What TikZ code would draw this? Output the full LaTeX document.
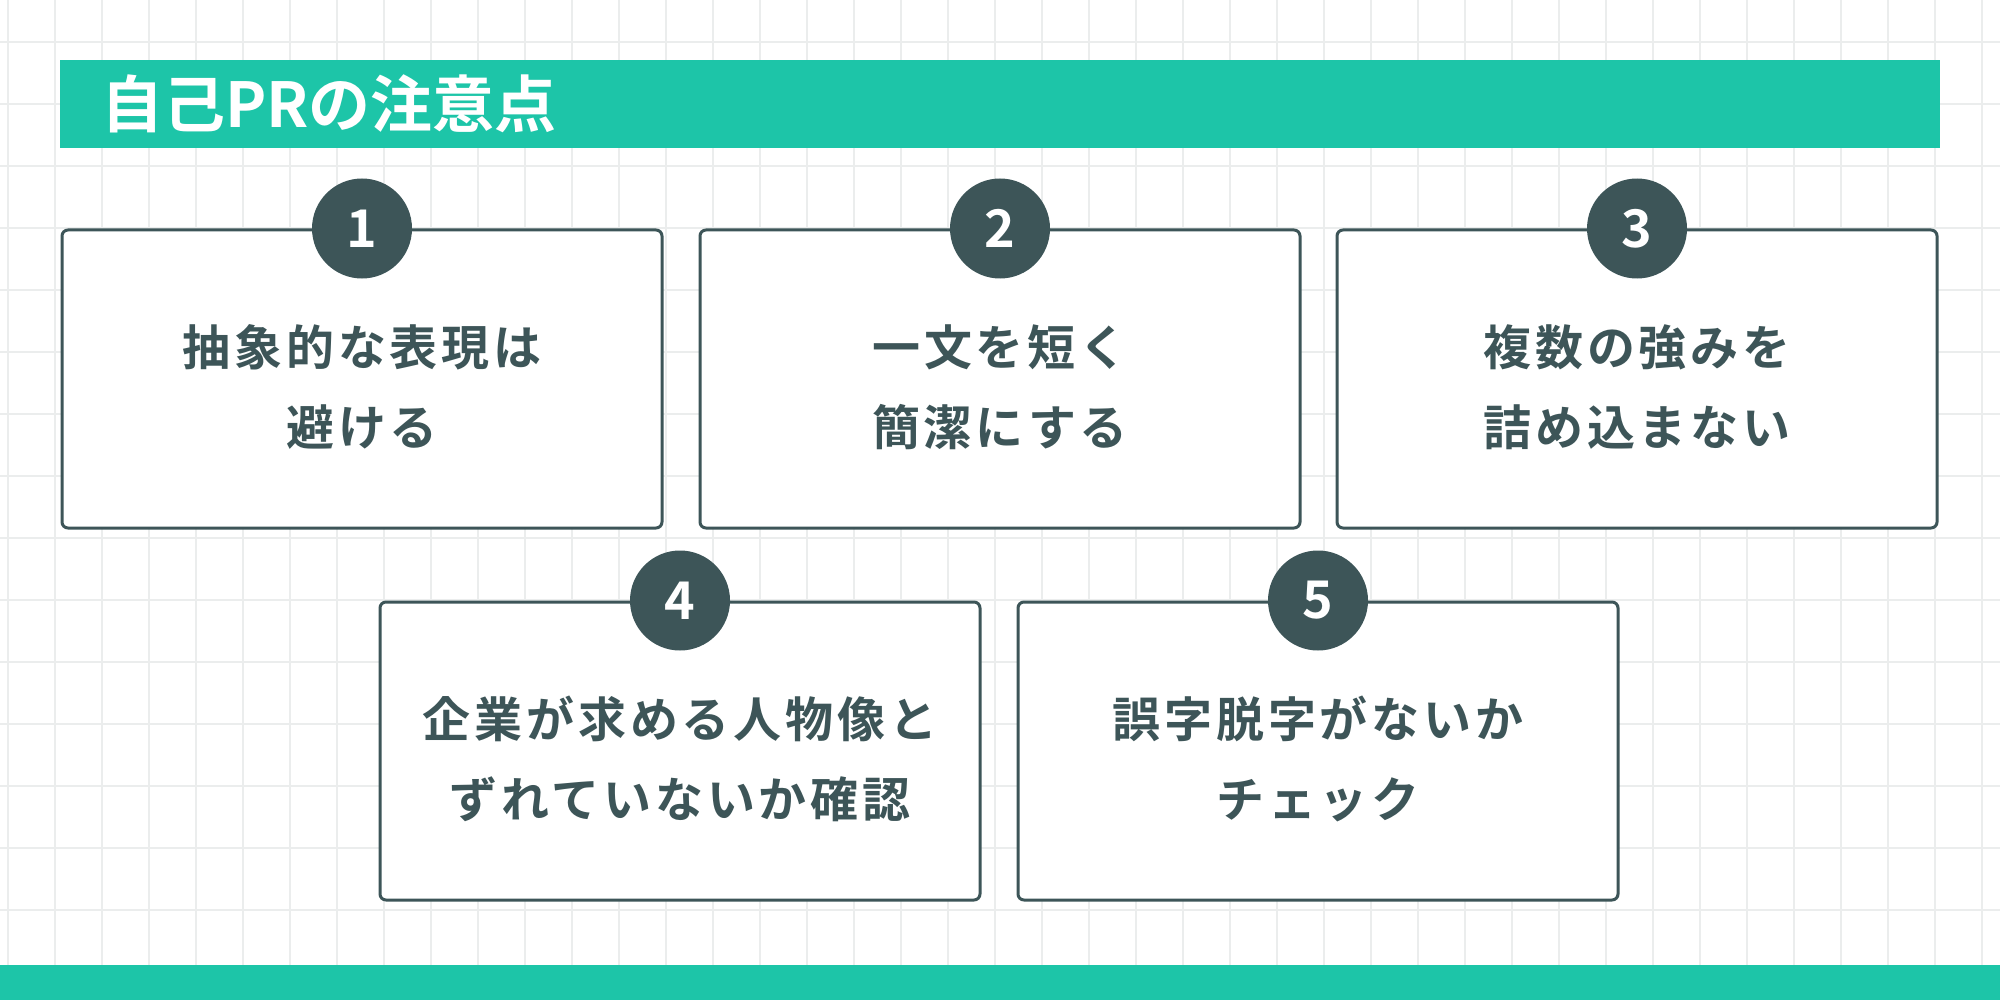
\documentclass[tikz,border=0pt]{standalone}
\usepackage{fontspec}
\newfontfamily\cjk{Noto Sans CJK JP Bold}
\newfontfamily\cjks[LetterSpace=8]{Noto Sans CJK JP Bold}
\definecolor{teal1}{HTML}{1DC5A8}
\definecolor{dark}{HTML}{3D5558}
\definecolor{gridc}{HTML}{EBEDED}
\begin{document}
\begin{tikzpicture}[x=0.5pt,y=-0.5pt,
  card/.style={draw=dark,line width=1.5pt,rounded corners=3pt,fill=white,minimum width=300pt,minimum height=149pt,inner sep=0pt},
  num/.style={circle,fill=dark,minimum size=50pt,inner sep=0pt,text=white,font=\cjk\fontsize{26}{26}\selectfont},
  lbl/.style={text=dark,align=center,font=\cjks\fontsize{24}{40}\selectfont}]
\useasboundingbox (0,0) rectangle (2000,1000);
\fill[white] (0,0) rectangle (2000,1000);
\foreach \i in {0,...,43} \draw[gridc,line width=0.6pt] (8+\i*47,0) -- (8+\i*47,1000);
\foreach \j in {0,...,16} \draw[gridc,line width=0.6pt] (0,42+\j*62) -- (2000,42+\j*62);
\fill[teal1] (60,60) rectangle (1940,148);
\node[anchor=west,text=white,font=\cjk\fontsize{31}{31}\selectfont] (title) at (94,104) {自己PRの注意点};
\fill[teal1] (0,965) rectangle (2000,1000);
\node[card] (c1) at (362,379) {};
\node[card] (c2) at (1000,379) {};
\node[card] (c3) at (1637,379) {};
\node[card] (c4) at (680,751) {};
\node[card] (c5) at (1318,751) {};
\node[num] (n1) at (c1.north) {1};
\node[num] (n2) at (c2.north) {2};
\node[num] (n3) at (c3.north) {3};
\node[num] (n4) at (c4.north) {4};
\node[num] (n5) at (c5.north) {5};
\node[lbl] (t1) at ([yshift=-4pt]c1.center) {抽象的な表現は\\避ける};
\node[lbl] (t2) at ([yshift=-4pt]c2.center) {一文を短く\\簡潔にする};
\node[lbl] (t3) at ([yshift=-4pt]c3.center) {複数の強みを\\詰め込まない};
\node[lbl] (t4) at ([yshift=-4pt]c4.center) {企業が求める人物像と\\ずれていないか確認};
\node[lbl] (t5) at ([yshift=-4pt]c5.center) {誤字脱字がないか\\チェック};
\end{tikzpicture}
\end{document}
